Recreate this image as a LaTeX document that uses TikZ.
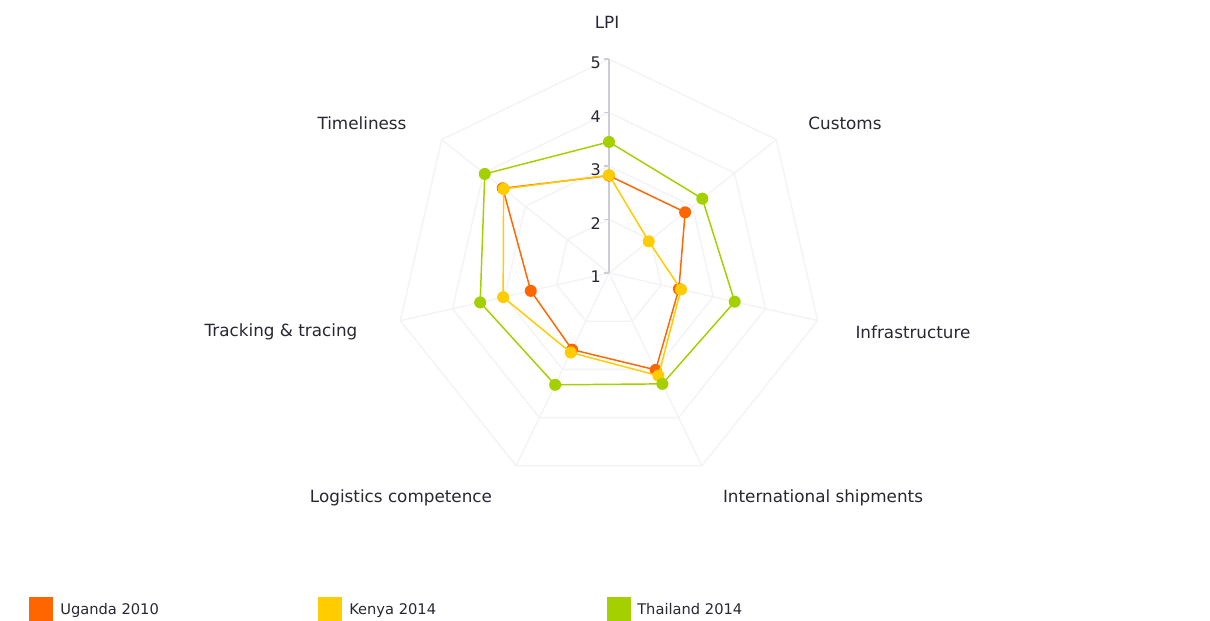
\documentclass[tikz,border=0pt]{standalone}
\usepackage{fontspec}
\setmainfont{DejaVu Sans}
\definecolor{ugcol}{RGB}{255,102,0}
\definecolor{kecol}{RGB}{255,204,0}
\definecolor{thcol}{RGB}{165,208,0}
\definecolor{txtcol}{RGB}{40,40,50}
\definecolor{gridcol}{RGB}{243,243,246}
\definecolor{axiscol}{RGB}{205,205,215}
\tikzset{
  gridline/.style={draw=gridcol, line width=1pt},
  serline/.style={line width=1.1pt, line join=round},
  dot/.style={circle, inner sep=0pt, minimum size=9pt, fill=#1, draw=none},
  axlabel/.style={font=\fontsize{12.6}{14}\selectfont, text=txtcol, inner sep=0pt},
  ticklabel/.style={font=\fontsize{12}{14}\selectfont, text=txtcol, inner sep=0pt, anchor=east},
  legtext/.style={font=\fontsize{11}{13}\selectfont, text=txtcol, inner sep=0pt, anchor=base west},
  legbox/.style={fill=#1, draw=none, minimum size=18pt, inner sep=0pt},
}
\begin{document}
\begin{tikzpicture}[x=0.75pt,y=-0.75pt]
\useasboundingbox (0,0) rectangle (1210,621);
\fill[white] (0,0) rectangle (1210,621);
\begin{scope}[shift={(609,273)}, x=0.75pt, y=0.75pt]
  % grid rings and spokes
  \foreach \k in {0,...,6} {
    \coordinate (s\k) at ({90-\k*360/7}:214);
  }
  \foreach \lv in {1,2,3,4} {
    \draw[gridline] ({90}:{\lv*53.5})
      \foreach \k in {1,...,6} { -- ({90-\k*360/7}:{\lv*53.5}) } -- cycle;
  }
  \coordinate (c) at (0,0);
  \foreach \k in {1,...,6} { \draw[gridline] (c) -- (s\k); }
  % value axis
  \draw[draw=axiscol, line width=0.8pt] (c) -- (s0);
  \foreach \lv/\t in {0/1,1/2,2/3,3/4,4/5} {
    \coordinate (t\lv) at (0,{\lv*53.5});
    \draw[draw=axiscol, line width=0.8pt] (t\lv) -- ++(-5,0);
    \node[ticklabel] (tl\lv) at ([shift={(-8,-4)}]t\lv) {\t};
  }
  % series: Uganda 2010
  \foreach \v [count=\i from 0] in {2.82,2.82,2.34,3.01,2.59,2.50,3.54} {
    \coordinate (u\i) at ({90-\i*360/7}:{(\v-1)*53.5});
  }
  \draw[serline, draw=ugcol] (u0) -- (u1) -- (u2) -- (u3) -- (u4) -- (u5) -- (u6) -- cycle;
  \foreach \i in {0,...,6} { \node[dot=ugcol] (um\i) at (u\i) {}; }
  % Kenya 2014
  \foreach \v [count=\i from 0] in {2.83,1.95,2.38,3.13,2.65,3.03,3.52} {
    \coordinate (k\i) at ({90-\i*360/7}:{(\v-1)*53.5});
  }
  \draw[serline, draw=kecol] (k0) -- (k1) -- (k2) -- (k3) -- (k4) -- (k5) -- (k6) -- cycle;
  \foreach \i in {0,...,6} { \node[dot=kecol] (km\i) at (k\i) {}; }
  % Thailand 2014
  \foreach \v [count=\i from 0] in {3.45,3.23,3.41,3.30,3.32,3.47,3.97} {
    \coordinate (h\i) at ({90-\i*360/7}:{(\v-1)*53.5});
  }
  \draw[serline, draw=thcol] (h0) -- (h1) -- (h2) -- (h3) -- (h4) -- (h5) -- (h6) -- cycle;
  \foreach \i in {0,...,6} { \node[dot=thcol] (hm\i) at (h\i) {}; }
\end{scope}
% axis labels
\node[axlabel] (lLPI) at (607,22) {LPI};
\node[axlabel] (lCus) at (845,123) {Customs};
\node[axlabel] (lInf) at (913,332) {Infrastructure};
\node[axlabel] (lInt) at (823,498) {International shipments};
\node[axlabel] (lLog) at (401,498) {Logistics competence};
\node[axlabel] (lTra) at (281,332) {Tracking \& tracing};
\node[axlabel] (lTim) at (362,123) {Timeliness};
% legend
\node[legbox=ugcol, anchor=north west] (bU) at (29,597) {};
\node[legtext] (tU) at (60,614) {Uganda 2010};
\node[legbox=kecol, anchor=north west] (bK) at (318,597) {};
\node[legtext] (tK) at (349,614) {Kenya 2014};
\node[legbox=thcol, anchor=north west] (bT) at (607,597) {};
\node[legtext] (tT) at (637,614) {Thailand 2014};
\end{tikzpicture}
\end{document}
